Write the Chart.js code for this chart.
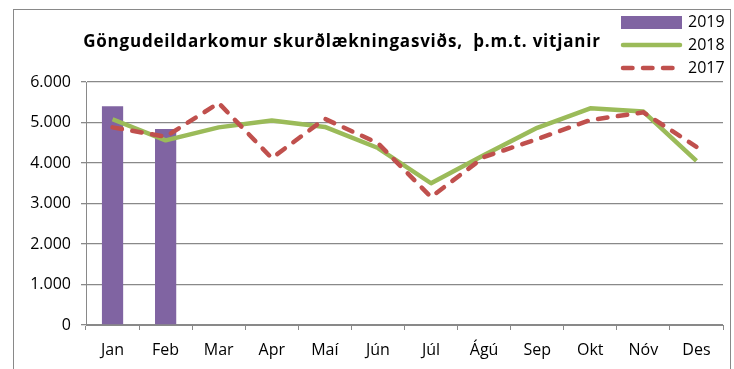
<!DOCTYPE html>
<html>
<head>
<meta charset="utf-8">
<script src="https://cdn.jsdelivr.net/npm/chart.js@4/dist/chart.umd.min.js"></script>
<style>
    html, body { margin: 0; padding: 0; background: #fff; }
    #wrap { width: 734px; height: 369px; }
</style>
</head>
<body>
<div id="wrap"><canvas id="visitsChart" width="734" height="369"></canvas></div>
<script>
// monthly outpatient visits
const months = ['Jan', 'Feb', 'Mar', 'Apr', 'Maí', 'Jún', 'Júl', 'Ágú', 'Sep', 'Okt', 'Nóv', 'Des'];
const visits2019 = [5400, 4840, null, null, null, null, null, null, null, null, null, null];
const visits2018 = [5080, 4560, 4880, 5050, 4890, 4370, 3500, 4200, 4870, 5350, 5270, 4050];
const visits2017 = [4880, 4650, 5480, 4120, 5090, 4490, 3160, 4150, 4590, 5060, 5250, 4400];
const yMax = 6000;
const yStep = 1000;

const titleText = 'Göngudeildarkomur skurðlækningasviðs,  þ.m.t. vitjanir';
const font = "'Open Sans', sans-serif";
const gray = '#898989';

function thousands(v) {
    return String(v).replace(/\B(?=(\d{3})+(?!\d))/g, '.');
}

// frame, title and legend
const decorations = {
    id: 'decorations',
    beforeDraw(chart) {
        const ctx = chart.ctx;
        ctx.save();
        ctx.strokeStyle = gray;
        ctx.lineWidth = 1;
        ctx.strokeRect(13.5, 9.5, 717, 400);
        ctx.restore();
    },
    afterDraw(chart) {
        const ctx = chart.ctx;
        ctx.save();
        ctx.fillStyle = '#000';
        ctx.font = "bold 17px " + font;
        ctx.letterSpacing = '0.8px';
        ctx.textAlign = 'center';
        ctx.textBaseline = 'alphabetic';
        ctx.fillText(titleText, 342, 47);
        ctx.letterSpacing = '0px';

        // legend in the top right corner
        const rows = [22, 45, 68];
        const ds = chart.data.datasets;
        ctx.font = "16px " + font;
        ctx.textAlign = 'left';
        ctx.textBaseline = 'middle';
        ds.forEach((d, i) => {
            const y = rows[i];
            if (d.type == 'bar') {
                ctx.fillStyle = d.backgroundColor;
                ctx.fillRect(621, y - 6, 61, 13);
            } else {
                ctx.strokeStyle = d.borderColor;
                ctx.lineWidth = d.borderWidth;
                ctx.lineCap = 'round';
                ctx.setLineDash(d.borderDash || []);
                ctx.beginPath();
                ctx.moveTo(623, y);
                ctx.lineTo(680, y);
                ctx.stroke();
                ctx.setLineDash([]);
            }
            ctx.fillStyle = '#000';
            ctx.fillText(d.label, 688, y);
        });
        ctx.restore();
    }
};

var ctx = document.getElementById('visitsChart').getContext('2d');

var visitsChart = new Chart(ctx, {
    data: {
        labels: months,
        datasets: [{
            type: 'bar',
            label: '2019',
            data: visits2019,
            backgroundColor: '#8064A2',
            barPercentage: 0.8,
            categoryPercentage: 0.5,
            order: 3
        }, {
            type: 'line',
            label: '2018',
            data: visits2018,
            borderColor: '#9BBB59',
            borderWidth: 4.5,
            pointRadius: 0,
            tension: 0,
            borderJoinStyle: 'round',
            order: 2
        }, {
            type: 'line',
            label: '2017',
            data: visits2017,
            borderColor: '#C0504D',
            borderWidth: 4.5,
            borderDash: [9.5, 10.5],
            borderCapStyle: 'round',
            pointRadius: 0,
            tension: 0,
            order: 1
        }]
    },
    options: {
        responsive: false,
        animation: false,
        layout: {
            padding: { top: 82, right: 11, bottom: 0, left: 0 }
        },
        plugins: {
            legend: { display: false },
            title: { display: false },
            tooltip: { enabled: false }
        },
        scales: {
            x: {
                offset: true,
                grid: {
                    offset: true,
                    drawOnChartArea: false,
                    drawTicks: true,
                    tickLength: 5,
                    color: gray
                },
                border: { color: gray, width: 1 },
                ticks: {
                    color: '#000',
                    font: { family: font, size: 16 },
                    padding: 11,
                    maxRotation: 0
                },
                afterFit(scale) { scale.height = 44; }
            },
            y: {
                min: 0,
                max: yMax,
                grid: {
                    color: gray,
                    lineWidth: 1.3,
                    tickLength: 5
                },
                border: { color: gray, width: 1 },
                ticks: {
                    stepSize: yStep,
                    color: '#000',
                    padding: 10,
                    font: { family: font, size: 16 },
                    callback: (v) => thousands(v)
                },
                afterFit(scale) { scale.width = 86; }
            }
        }
    },
    plugins: [decorations]
});
</script>
</body>
</html>
